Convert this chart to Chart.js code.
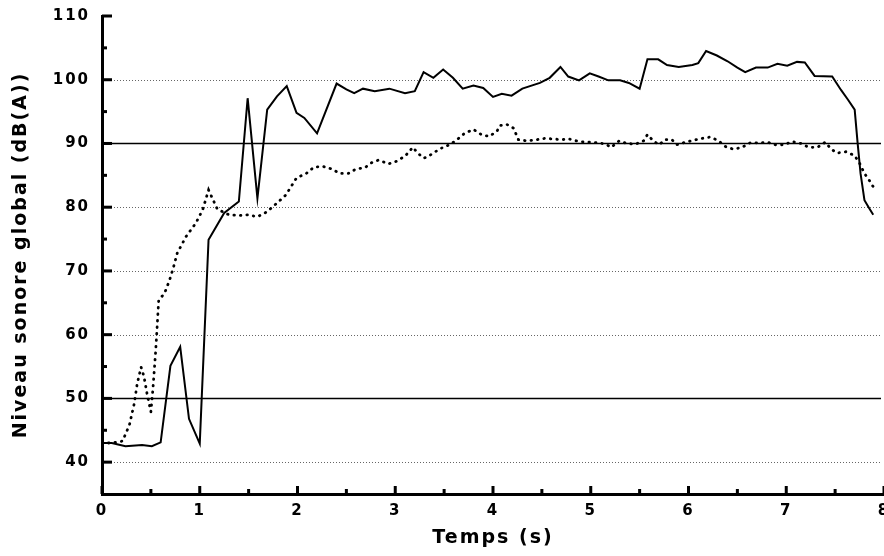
<!DOCTYPE html>
<html><head><meta charset="utf-8">
<script src="https://cdn.jsdelivr.net/npm/chart.js@4/dist/chart.umd.min.js"></script>
<style>html,body{margin:0;padding:0;background:#fff}</style>
</head><body>
<canvas id="c" width="884" height="556"></canvas>
<script>
const solidTimes = [0.00,0.10,0.24,0.41,0.51,0.60,0.70,0.80,0.89,1.00,1.09,1.25,1.40,1.49,1.59,1.69,1.79,1.89,1.99,2.07,2.20,2.40,2.50,2.58,2.67,2.79,2.94,3.10,3.20,3.29,3.39,3.49,3.59,3.69,3.80,3.90,4.00,4.09,4.19,4.30,4.48,4.58,4.69,4.77,4.88,4.99,5.08,5.18,5.30,5.39,5.50,5.58,5.69,5.78,5.90,6.04,6.10,6.18,6.29,6.40,6.50,6.58,6.69,6.81,6.91,7.01,7.11,7.19,7.29,7.47,7.56,7.63,7.70,7.73,7.76,7.80,7.85,7.89];
const solidLevels = [43.0,43.0,42.5,42.7,42.5,43.1,55.1,58.1,46.8,42.9,74.9,79.1,80.9,97.1,81.4,95.3,97.4,99.0,94.8,94.0,91.6,99.4,98.5,97.9,98.6,98.2,98.6,97.9,98.2,101.2,100.3,101.6,100.3,98.6,99.1,98.7,97.3,97.8,97.5,98.6,99.5,100.3,102.0,100.5,99.9,101.0,100.5,99.9,99.9,99.5,98.6,103.2,103.2,102.3,102.0,102.3,102.6,104.5,103.8,102.9,101.9,101.2,101.9,101.9,102.5,102.2,102.8,102.7,100.6,100.5,98.4,96.9,95.3,90.1,85.3,81.1,79.8,78.8];
const dottedTimes = [0.00,0.10,0.21,0.28,0.33,0.36,0.40,0.43,0.46,0.50,0.52,0.55,0.58,0.64,0.69,0.73,0.77,0.86,0.96,1.03,1.09,1.18,1.30,1.40,1.49,1.59,1.68,1.75,1.88,1.99,2.09,2.17,2.26,2.35,2.43,2.52,2.60,2.69,2.76,2.83,2.93,3.01,3.10,3.18,3.23,3.29,3.33,3.41,3.50,3.56,3.64,3.71,3.80,3.88,3.96,4.04,4.07,4.14,4.21,4.26,4.35,4.45,4.53,4.62,4.70,4.78,4.88,4.98,5.08,5.15,5.21,5.29,5.37,5.46,5.54,5.58,5.64,5.70,5.76,5.83,5.88,5.97,6.05,6.14,6.22,6.30,6.38,6.46,6.55,6.63,6.72,6.81,6.89,6.98,7.06,7.15,7.23,7.32,7.40,7.46,7.52,7.61,7.70,7.75,7.80,7.85,7.89];
const dottedLevels = [43.0,43.0,43.3,45.8,49.2,52.3,54.9,53.4,50.8,47.9,51.3,57.6,65.4,66.5,68.5,70.5,72.8,75.4,77.5,79.6,82.7,79.7,78.8,78.7,78.8,78.5,79.2,80.1,81.9,84.6,85.3,86.3,86.4,86.0,85.3,85.3,86.0,86.2,87.0,87.4,86.8,87.2,88.0,89.4,88.5,87.7,87.9,88.7,89.5,89.8,90.7,91.6,92.2,91.4,91.1,91.9,92.8,93.0,92.4,90.6,90.4,90.6,90.8,90.7,90.6,90.7,90.3,90.2,90.1,89.9,89.4,90.4,90.0,89.9,90.4,91.4,90.4,89.8,90.6,90.6,89.8,90.2,90.5,90.8,91.0,90.5,89.5,89.1,89.4,90.1,90.1,90.2,89.8,89.8,90.3,90.0,89.4,89.4,90.2,89.1,88.5,88.7,88.1,86.9,85.3,84.2,83.2];
const yTickValues = [40,50,60,70,80,90,100,110];
const xTickValues = [0,1,2,3,4,5,6,7,8];
const solidGridValues = [50,90];
const dottedGridValues = [40,60,70,80,100];
const yMinorValues = [45,55,65,75,85,95,105];
const xMinorValues = [0.5,1.5,2.5,3.5,4.5,5.5,6.5,7.5];

const FONT = 'DejaVu Sans';
const setSpacing = c => { c.ctx.letterSpacing = '2px'; };
const spacingPlugin = { id:'spacing', beforeInit: setSpacing, beforeUpdate: setSpacing, beforeLayout: setSpacing, beforeDraw: setSpacing };

const gridPlugin = {
  id:'grid',
  beforeDatasetsDraw(chart){
    const {ctx, chartArea:a, scales:{y}} = chart;
    ctx.save();
    ctx.lineWidth = 1;
    ctx.strokeStyle = '#666';
    ctx.setLineDash([1,2]);
    dottedGridValues.forEach(v => {
      const py = Math.round(y.getPixelForValue(v)) + 0.5;
      ctx.beginPath(); ctx.moveTo(a.left, py); ctx.lineTo(a.right - 3, py); ctx.stroke();
    });
    ctx.setLineDash([]);
    ctx.strokeStyle = '#000';
    ctx.lineWidth = 1.3;
    solidGridValues.forEach(v => {
      const py = Math.round(y.getPixelForValue(v)) + 0.5;
      ctx.beginPath(); ctx.moveTo(a.left, py); ctx.lineTo(a.right - 3, py); ctx.stroke();
    });
    ctx.restore();
  }
};

const tickPlugin = {
  id:'ticksIn',
  afterDraw(chart){
    const {ctx, chartArea:a, scales:{x,y}} = chart;
    ctx.save();
    ctx.fillStyle = '#000';
    yTickValues.forEach(v => { const py = y.getPixelForValue(v); ctx.fillRect(a.left, py - 1.5, 10, 3); });
    yMinorValues.forEach(v => { const py = y.getPixelForValue(v); ctx.fillRect(a.left, py - 1.5, 5, 3); });
    xTickValues.forEach(v => { const px = x.getPixelForValue(v); ctx.fillRect(px - 1.5, a.bottom - 8, 3, 8); });
    xMinorValues.forEach(v => { const px = x.getPixelForValue(v); ctx.fillRect(px - 1.5, a.bottom - 5, 3, 5); });
    ctx.restore();
  }
};

new Chart(document.getElementById('c'), {
  type:'line',
  data:{
    datasets:[
      { label:'solid', data: solidTimes.map((t,i)=>({x:t, y:solidLevels[i]})), borderColor:'#000', borderWidth:2, pointRadius:0, tension:0, fill:false },
      { label:'dotted', data: dottedTimes.map((t,i)=>({x:t, y:dottedLevels[i]})), borderColor:'#000', borderWidth:2.8, borderDash:[0.5,6], borderCapStyle:'round', pointRadius:0, tension:0, fill:false }
    ]
  },
  options:{
    responsive:false, animation:false, devicePixelRatio:1,
    layout:{padding:{top:16, right:0, left:0, bottom:0}},
    plugins:{legend:{display:false}, tooltip:{enabled:false}},
    scales:{
      x:{
        type:'linear', min:0, max:8,
        afterBuildTicks: s => { s.ticks = xTickValues.map(v=>({value:v})); },
        afterFit: s => { s.height = 62; s.paddingRight = 0; },
        grid:{drawOnChartArea:false, drawTicks:false},
        border:{display:true, width:3, color:'#000'},
        ticks:{padding:8, color:'#000', maxRotation:0, autoSkip:false, font:{family:FONT, size:15, weight:'bold'}},
        title:{display:true, text:'Temps (s)', color:'#000', font:{family:FONT, size:19, weight:'bold'}, padding:{top:0, bottom:7}}
      },
      y:{
        type:'linear', min:35, max:110,
        afterBuildTicks: s => { s.ticks = yTickValues.map(v=>({value:v})); },
        afterFit: s => { s.width = 102; s.paddingTop = 0; s.paddingBottom = 0; },
        grid:{drawOnChartArea:false, drawTicks:false},
        border:{display:true, width:3, color:'#000'},
        ticks:{padding:12, color:'#000', font:{family:FONT, size:15, weight:'bold'}},
        title:{display:true, text:'Niveau sonore global (dB(A))', color:'#000', font:{family:FONT, size:19, weight:'bold'}, padding:{top:10, bottom:0}}
      }
    }
  },
  plugins:[spacingPlugin, gridPlugin, tickPlugin]
});
</script>
</body></html>
